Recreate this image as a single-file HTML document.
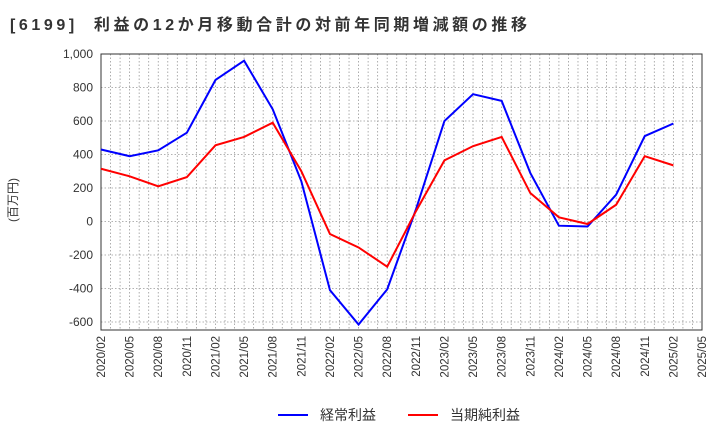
<!DOCTYPE html>
<html><head><meta charset="utf-8"><style>
body{margin:0;background:#fff;font-family:"Liberation Sans","Noto Sans CJK JP",sans-serif}
</style></head><body>
<svg width="720" height="440" viewBox="0 0 720 440">
<text x="10" y="30" font-size="16" font-weight="bold" fill="#333" textLength="517" lengthAdjust="spacing" xml:space="preserve">[6199]  利益の12か月移動合計の対前年同期増減額の推移</text>
<text transform="translate(17,200) rotate(-90)" font-size="12" fill="#333" text-anchor="middle">(百万円)</text>
<g id="grid"></g>
<g id="axes"></g>
<g id="series"></g>
<g>
<line x1="278" y1="415" x2="308" y2="415" stroke="#0000ff" stroke-width="2"/>
<text x="320" y="420" font-size="14" fill="#333">経常利益</text>
<line x1="408" y1="415" x2="438" y2="415" stroke="#ff0000" stroke-width="2"/>
<text x="450" y="420" font-size="14" fill="#333">当期純利益</text>
</g>
</svg>
<script>
const xLabels=["2020/02","2020/05","2020/08","2020/11","2021/02","2021/05","2021/08","2021/11","2022/02","2022/05","2022/08","2022/11","2023/02","2023/05","2023/08","2023/11","2024/02","2024/05","2024/08","2024/11","2025/02","2025/05"];
const yTicks=[1000,800,600,400,200,0,-200,-400,-600];
const keijo=[430,390,425,530,845,960,670,240,-410,-615,-405,70,600,760,720,290,-25,-30,160,510,585];
const junri=[315,270,210,265,455,505,590,300,-75,-155,-270,60,365,450,505,170,25,-15,100,390,335];
const L=101,R=702,T=54,B=330;
const xs=i=>L+i*(R-L)/21;
const ys=v=>221.5-v*33.5/200;
const NS="http://www.w3.org/2000/svg";
function mk(t,a,p){const e=document.createElementNS(NS,t);for(const k in a)e.setAttribute(k,a[k]);p.appendChild(e);return e;}
const g=document.getElementById('grid'),ax=document.getElementById('axes'),s=document.getElementById('series');
for(let m=1;m<63;m++){const x=L+m*(R-L)/63;const l=mk('line',{x1:x,y1:T,x2:x,y2:B,stroke:'#999','stroke-dasharray':'1.5,2','stroke-width':0.8},g);

}
yTicks.forEach(v=>{const y=ys(v);const l=mk('line',{x1:L,y1:y,x2:R,y2:y,stroke:'#999','stroke-dasharray':'1.5,2','stroke-width':0.8},g);


const t=mk('text',{x:L-8,y:y+4,'font-size':12,fill:'#333','text-anchor':'end'},ax);t.textContent=v.toLocaleString('en-US');

});
const fr=mk('rect',{x:L,y:T,width:R-L,height:B-T,fill:'none',stroke:'#333','stroke-width':1},ax);


xLabels.forEach((lb,i)=>{const x=xs(i);const t=mk('text',{transform:`translate(${x+4},${B+6}) rotate(-90)`,'font-size':11.5,fill:'#333','text-anchor':'end'},ax);t.textContent=lb;

});
[[keijo,'#0000ff','keijo-line'],[junri,'#ff0000','junri-line']].forEach(([d,c,n])=>{
const p=mk('polyline',{points:d.map((v,i)=>xs(i)+','+ys(v)).join(' '),fill:'none',stroke:c,'stroke-width':2},s);

});
</script>
</body></html>
